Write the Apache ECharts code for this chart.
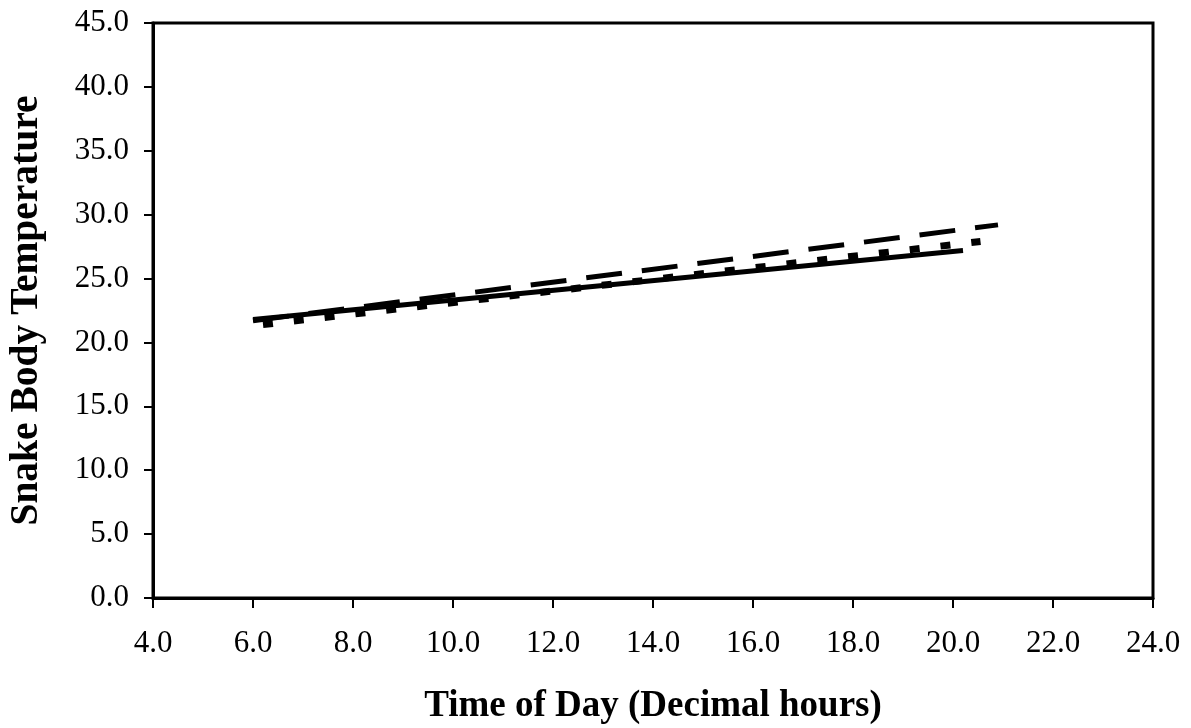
<!DOCTYPE html>
<html>
<head>
<meta charset="utf-8">
<script src="https://cdn.jsdelivr.net/npm/echarts@6/dist/echarts.min.js"></script>
<style>html,body{margin:0;padding:0;background:#fff;}#c{width:1191px;height:728px;}</style>
</head>
<body>
<div id="c"></div>
<script>
var xTicks = ['4.0','6.0','8.0','10.0','12.0','14.0','16.0','18.0','20.0','22.0','24.0'];
var yTicks = ['0.0','5.0','10.0','15.0','20.0','25.0','30.0','35.0','40.0','45.0'];
var solidX = [6.0, 20.2];
var solidY = [21.8, 27.2];
var dashedX = [6.0, 20.9];
var dashedY = [21.7, 29.2];
var dottedX = [6.2, 20.55];
var dottedY = [21.4, 27.9];

function pairs(xs, ys){ return xs.map(function(x,i){ return [x, ys[i]]; }); }

var font = 'Liberation Serif';
var chart = echarts.init(document.getElementById('c'));
chart.setOption({
  backgroundColor: '#fff',
  animation: false,
  grid: { left: 153, right: 38, top: 23, bottom: 130, outerBoundsMode: 'none', containLabel: false,
          show: true, borderColor: '#000', borderWidth: 3, backgroundColor: 'transparent' },
  xAxis: {
    type: 'value', min: 4, max: 24, interval: 2,
    name: 'Time of Day (Decimal hours)', nameLocation: 'middle', nameGap: 90,
    nameTextStyle: { fontFamily: font, fontWeight: 'bold', fontSize: 37, color: '#000' },
    axisLine: { show: true, lineStyle: { color: '#000', width: 3 } },
    axisTick: { show: true, inside: false, length: 10, lineStyle: { color: '#000', width: 2 } },
    axisLabel: { margin: 30, fontFamily: font, fontSize: 31, color: '#000',
      formatter: function(v){ return xTicks[Math.round((v-4)/2)]; } },
    splitLine: { show: false }
  },
  yAxis: {
    type: 'value', min: 0, max: 45, interval: 5,
    name: 'Snake Body Temperature', nameLocation: 'middle', nameGap: 106,
    nameTextStyle: { fontFamily: font, fontWeight: 'bold', fontSize: 39.5, color: '#000' },
    axisLine: { show: true, lineStyle: { color: '#000', width: 3 } },
    axisTick: { show: true, inside: false, length: 9, lineStyle: { color: '#000', width: 2 } },
    axisLabel: { margin: 24, fontFamily: font, fontSize: 31, color: '#000',
      formatter: function(v){ return yTicks[Math.round(v/5)]; } },
    splitLine: { show: false }
  },
  series: [
    { type: 'line', data: pairs(solidX, solidY), symbol: 'none',
      lineStyle: { color: '#000', width: 5, type: 'solid' } },
    { type: 'line', data: pairs(dashedX, dashedY), symbol: 'none',
      lineStyle: { color: '#000', width: 5, type: [36, 20], cap: 'butt' } },
    { type: 'line', data: pairs(dottedX, dottedY), symbol: 'none',
      lineStyle: { color: '#000', width: 7, type: [10, 21], cap: 'butt' } }
  ]
});
</script>
</body>
</html>
